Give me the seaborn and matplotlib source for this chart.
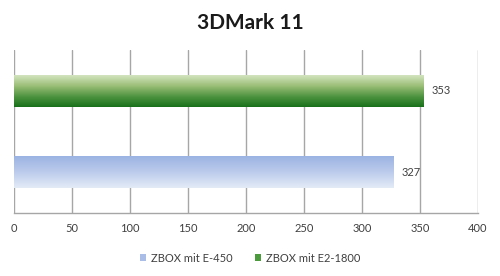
import numpy as np
import pandas as pd
import matplotlib
matplotlib.use("Agg")
import matplotlib.pyplot as plt
from matplotlib.patches import Patch
from matplotlib.colors import LinearSegmentedColormap
import seaborn as sns

title = "3DMark 11"
categories = ["ZBOX mit E2-1800", "ZBOX mit E-450"]
values = [353, 327]
legend_order = ["ZBOX mit E-450", "ZBOX mit E2-1800"]
x_ticks = [0, 50, 100, 150, 200, 250, 300, 350, 400]

# gradient colours (top -> bottom)
grad = {
    "ZBOX mit E2-1800": ["#d3e4bf", "#9cbf78", "#4f9440", "#17701a"],
    "ZBOX mit E-450": ["#9bb3e2", "#bccbec", "#e4ebf7"],
}
legend_colors = {"ZBOX mit E-450": "#a9bde6", "ZBOX mit E2-1800": "#4b9a3c"}

sns.set_theme(style="white")
plt.rcParams["font.family"] = ["Lato", "DejaVu Sans"]

df = pd.DataFrame({"cat": categories, "val": values})
fig = plt.figure(figsize=(5.0, 2.76), dpi=100)
ax = fig.add_axes([0.028, 0.228, 0.928, 0.591])

sns.barplot(data=df, x="val", y="cat", hue="cat",
            palette={c: legend_colors[c] for c in categories},
            width=0.39, legend=False, ax=ax, orient="h", zorder=3)

ax.set_xlim(0, 400)
ax.set_ylim(1.5, -0.5)

# gradient fill
for patch, cat in zip(ax.patches, categories):
    bb = patch.get_bbox()
    x0, y0, x1, y1 = bb.x0, bb.y0, bb.x1, bb.y1
    cmap = LinearSegmentedColormap.from_list("g", grad[cat])
    img = np.linspace(0, 1, 256).reshape(-1, 1)
    ymin, ymax = min(y0, y1), max(y0, y1)
    im = ax.imshow(img, cmap=cmap, aspect="auto",
                   extent=(x0, x1, ymax, ymin), origin="upper", zorder=4)
    im.set_clip_path(patch)
    patch.set_edgecolor("none")

# value labels
for v, cat in zip(values, categories):
    ax.text(v + 7, categories.index(cat), str(v), va="center", ha="left",
            fontsize=8, color="#404040", zorder=5)

ax.set_xticks(x_ticks)
ax.set_xticklabels([str(t) for t in x_ticks], fontsize=8, color="#404040")
ax.set_yticks([])
ax.set_xlabel("")
ax.set_ylabel("")
ax.xaxis.grid(True, color="#a6a6a6", linewidth=1, zorder=0)
ax.set_axisbelow(True)
for s in ["top", "right", "left"]:
    ax.spines[s].set_visible(False)
ax.spines["bottom"].set_color("#a6a6a6")
ax.spines["bottom"].set_linewidth(1)
ax.tick_params(axis="x", length=3, width=1, color="#a6a6a6", direction="out", pad=4)

fig.text(0.5, 0.915, title, ha="center", va="center", fontsize=15,
         fontweight="bold", color="#1a1a1a")

handles = [Patch(facecolor=legend_colors[c], edgecolor="none", label=c) for c in legend_order]
fig.legend(handles=handles, loc="center", bbox_to_anchor=(0.5, 0.065), ncol=2,
           frameon=False, fontsize=8, handlelength=0.6, handleheight=0.6,
           handletextpad=0.4, columnspacing=2.0, labelcolor="#404040")

fig.savefig("out.png", dpi=100)
